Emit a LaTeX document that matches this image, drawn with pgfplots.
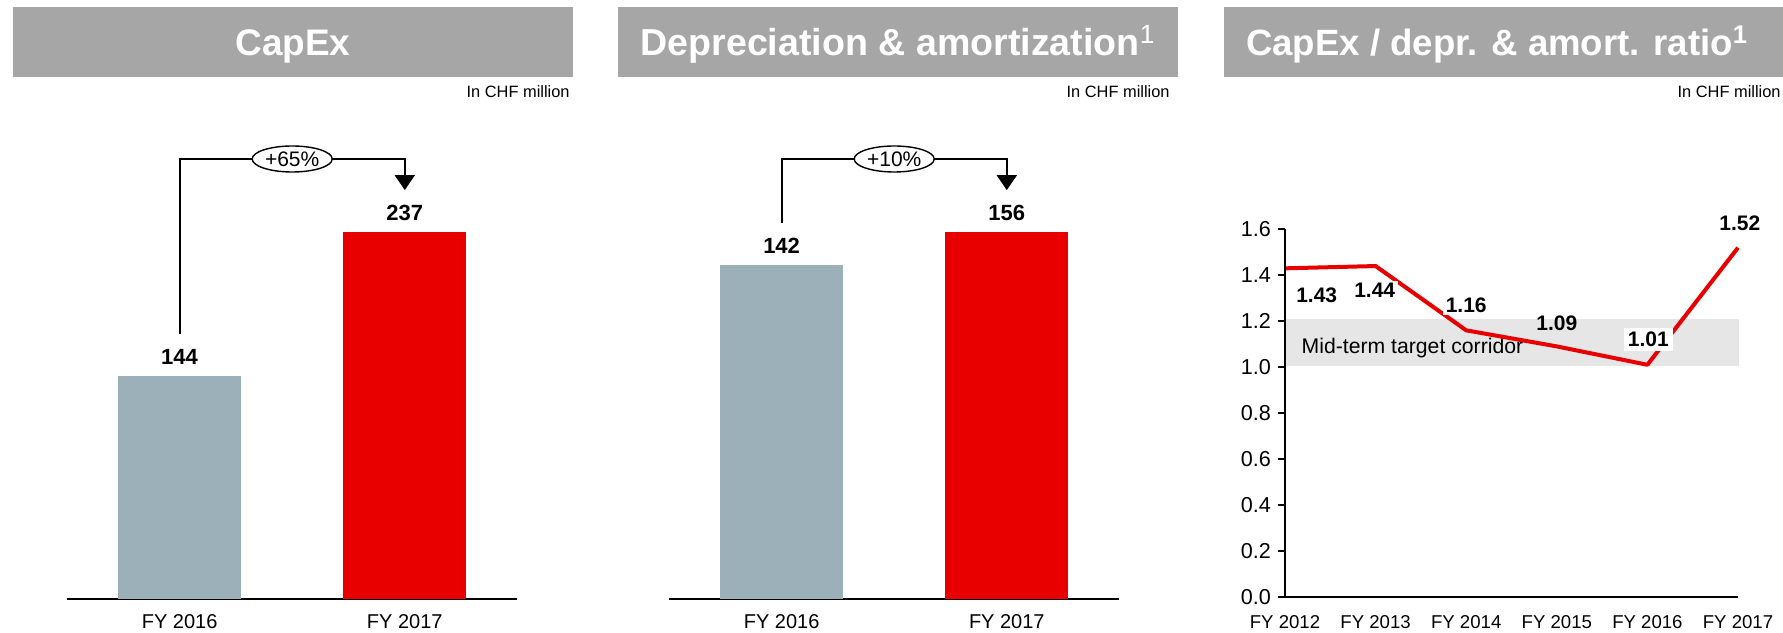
\documentclass[border=0pt]{standalone}
\usepackage{fontspec}
\setmainfont{Liberation Sans}
\usepackage{pgfplots}
\pgfplotsset{compat=1.18}
\usetikzlibrary{arrows.meta,shapes.geometric,calc}
\definecolor{titlegray}{HTML}{A6A6A6}
\definecolor{bargray}{HTML}{9BB0B8}
\definecolor{barred}{HTML}{E80000}
\definecolor{corr}{HTML}{E6E6E6}
\newcommand{\fs}[1]{\fontsize{#1}{1.2\dimexpr#1pt\relax}\selectfont}
\begin{document}
\begin{tikzpicture}
\useasboundingbox (0,0) rectangle (891.5pt,316pt);
% title bars
\fill[titlegray] (6.5pt,277.5pt) rectangle (286.5pt,312.5pt);
\fill[titlegray] (309pt,277.5pt) rectangle (589pt,312.5pt);
\fill[titlegray] (612pt,277.5pt) rectangle (891.5pt,312.5pt);
\node[anchor=base, text=white, font=\fs{18.5}\bfseries, inner sep=0pt] at (146.5pt,288pt) {CapEx};
\node[anchor=base, text=white, font=\fs{18.8}\bfseries, inner sep=0pt] at (449pt,288pt) {Depreciation \& amortization\textsuperscript{\mdseries 1}};
\node[anchor=base, text=white, font=\fs{18.3}\bfseries, inner sep=0pt] at (748.5pt,288pt) {CapEx / depr. \& amort. ratio\textsuperscript{1}};
\node[anchor=base east, font=\fs{8.2}, inner sep=0pt] at (285pt,267pt) {In CHF million};
\node[anchor=base east, font=\fs{8.2}, inner sep=0pt] at (585pt,267pt) {In CHF million};
\node[anchor=base east, font=\fs{8.2}, inner sep=0pt] at (890.5pt,267pt) {In CHF million};

% Panel 1: CapEx
\begin{axis}[at={(33.5pt,16.65pt)}, anchor=south west, scale only axis,
  width=225.2pt, height=225pt, xmin=-0.5, xmax=1.5, ymin=0, ymax=290.9,
  axis x line=bottom, axis y line=none, axis line style={-, line width=1pt, black},
  xtick={0,1}, xticklabels={FY 2016, FY 2017}, xtick style={draw=none},
  xticklabel style={anchor=center, yshift=-9.3pt, font=\fs{10}},
  clip=false]
\addplot[ybar, bar width=0.5455, bar shift=0pt, fill=bargray, draw=none] coordinates {(0,144)};
\addplot[ybar, bar width=0.5455, bar shift=0pt, fill=barred, draw=none] coordinates {(1,237)};
\coordinate (g1) at (axis cs:0,144);
\coordinate (r1) at (axis cs:1,237);
\node[font=\fs{11}\bfseries, yshift=9.5pt] at (axis cs:0,144) {144};
\node[font=\fs{11}\bfseries, yshift=9.8pt] at (axis cs:1,237) {237};
\end{axis}
\draw[line width=1pt, -{Triangle[width=10pt,length=7.5pt]}] ([yshift=21pt]g1) -- (g1 |- 0,236.5pt) -- (r1 |- 0,236.5pt) -- ([yshift=21pt]r1);
\node[draw, ellipse, fill=white, line width=0.7pt, minimum width=40pt, minimum height=13pt, inner sep=0pt, font=\fs{10.5}] at ($(g1 |- 0,236.5pt)!0.5!(r1 |- 0,236.5pt)$) {+65\%};

% Panel 2: D&A
\begin{axis}[at={(334.5pt,16.65pt)}, anchor=south west, scale only axis,
  width=225.2pt, height=225pt, xmin=-0.5, xmax=1.5, ymin=0, ymax=191.5,
  axis x line=bottom, axis y line=none, axis line style={-, line width=1pt, black},
  xtick={0,1}, xticklabels={FY 2016, FY 2017}, xtick style={draw=none},
  xticklabel style={anchor=center, yshift=-9.3pt, font=\fs{10}},
  clip=false]
\addplot[ybar, bar width=0.5455, bar shift=0pt, fill=bargray, draw=none] coordinates {(0,142)};
\addplot[ybar, bar width=0.5455, bar shift=0pt, fill=barred, draw=none] coordinates {(1,156)};
\coordinate (g2) at (axis cs:0,142);
\coordinate (r2) at (axis cs:1,156);
\node[font=\fs{11}\bfseries, yshift=9.5pt] at (axis cs:0,142) {142};
\node[font=\fs{11}\bfseries, yshift=9.8pt] at (axis cs:1,156) {156};
\end{axis}
\draw[line width=1pt, -{Triangle[width=10pt,length=7.5pt]}] ([yshift=21pt]g2) -- (g2 |- 0,236.5pt) -- (r2 |- 0,236.5pt) -- ([yshift=21pt]r2);
\node[draw, ellipse, fill=white, line width=0.7pt, minimum width=40pt, minimum height=13pt, inner sep=0pt, font=\fs{10.5}] at ($(g2 |- 0,236.5pt)!0.5!(r2 |- 0,236.5pt)$) {+10\%};

% Panel 3: ratio
\begin{axis}[at={(642.5pt,17.65pt)}, anchor=south west, scale only axis,
  width=226.5pt, height=183.7pt, xmin=0, xmax=5, ymin=0, ymax=1.6,
  axis x line=bottom, axis y line=left, axis line style={-, line width=1pt, black},
  xtick={0,1,2,3,4,5}, xticklabels={FY 2012, FY 2013, FY 2014, FY 2015, FY 2016, FY 2017},
  xtick style={draw=none},
  xticklabel style={anchor=center, yshift=-9.3pt, font=\fs{9.3}},
  ytick={0,0.2,0.4,0.6,0.8,1.0,1.2,1.4,1.6},
  yticklabels={0.0,0.2,0.4,0.6,0.8,1.0,1.2,1.4,1.6},
  ytick style={line width=1pt, black}, tick align=outside, major tick length=3.5pt,
  yticklabel style={font=\fs{10.8}},
  clip=false, axis on top]
\addplot[fill=corr, draw=none, forget plot] coordinates {(0,1.003) (5.01,1.003) (5.01,1.21) (0,1.21)};
\node[anchor=base west, inner sep=0pt, font=\fs{10.6}] at (axis cs:0.18,1.057) {Mid-term target corridor};
\addplot[barred, line width=2pt, line join=round, mark=none] coordinates {(0,1.43) (1,1.44) (2,1.16) (3,1.09) (4,1.01) (5,1.52)};
\node[fill=white, inner sep=1.2pt, font=\fs{10.5}\bfseries] at (axis cs:0.35,1.312) {1.43};
\node[fill=white, inner sep=1.2pt, font=\fs{10.5}\bfseries] at (axis cs:0.99,1.334) {1.44};
\node[fill=white, inner sep=1.2pt, font=\fs{10.5}\bfseries] at (axis cs:2.0,1.269) {1.16};
\node[inner sep=1.2pt, font=\fs{10.5}\bfseries] at (axis cs:3.0,1.189) {1.09};
\node[fill=white, inner sep=2pt, font=\fs{10.5}\bfseries] at (axis cs:4.01,1.119) {1.01};
\node[inner sep=1.2pt, font=\fs{10.5}\bfseries] at (axis cs:5.02,1.626) {1.52};
\end{axis}
\end{tikzpicture}
\end{document}
